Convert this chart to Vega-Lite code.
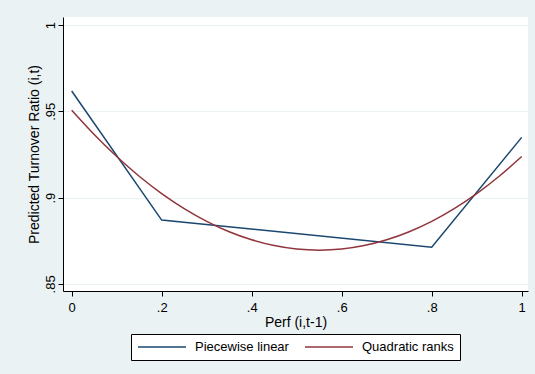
{
  "$schema": "https://vega.github.io/schema/vega-lite/v6.json",
  "width": 465,
  "height": 274,
  "autosize": {"type": "none"},
  "padding": {"left": 63, "top": 17, "right": 7, "bottom": 83},
  "background": "#EAF2F3",
  "config": {
    "view": {"fill": "white", "stroke": null},
    "font": "Liberation Sans",
    "axis": {"labelColor": "black", "titleColor": "black", "domainColor": "black", "tickColor": "black", "tickSize": 5, "domainWidth": 1, "tickWidth": 1, "labelFontSize": 13, "titleFontSize": 14, "titleFontWeight": "normal"}
  },
  "data": {
    "values": [
      {"perf": 0, "ratio": 0.9618, "series": "Piecewise linear"},
      {"perf": 0.2, "ratio": 0.8870, "series": "Piecewise linear"},
      {"perf": 0.8, "ratio": 0.8713, "series": "Piecewise linear"},
      {"perf": 1, "ratio": 0.9349, "series": "Piecewise linear"},
      {"perf": 0, "ratio": 0.9506, "series": "Quadratic ranks"},
      {"perf": 0.05, "ratio": 0.93653, "series": "Quadratic ranks"},
      {"perf": 0.1, "ratio": 0.9238, "series": "Quadratic ranks"},
      {"perf": 0.15, "ratio": 0.91241, "series": "Quadratic ranks"},
      {"perf": 0.2, "ratio": 0.90236, "series": "Quadratic ranks"},
      {"perf": 0.25, "ratio": 0.89365, "series": "Quadratic ranks"},
      {"perf": 0.3, "ratio": 0.88628, "series": "Quadratic ranks"},
      {"perf": 0.35, "ratio": 0.88025, "series": "Quadratic ranks"},
      {"perf": 0.4, "ratio": 0.87556, "series": "Quadratic ranks"},
      {"perf": 0.45, "ratio": 0.87221, "series": "Quadratic ranks"},
      {"perf": 0.5, "ratio": 0.8702, "series": "Quadratic ranks"},
      {"perf": 0.55, "ratio": 0.86953, "series": "Quadratic ranks"},
      {"perf": 0.6, "ratio": 0.8702, "series": "Quadratic ranks"},
      {"perf": 0.65, "ratio": 0.87221, "series": "Quadratic ranks"},
      {"perf": 0.7, "ratio": 0.87556, "series": "Quadratic ranks"},
      {"perf": 0.75, "ratio": 0.88025, "series": "Quadratic ranks"},
      {"perf": 0.8, "ratio": 0.88628, "series": "Quadratic ranks"},
      {"perf": 0.85, "ratio": 0.89365, "series": "Quadratic ranks"},
      {"perf": 0.9, "ratio": 0.90236, "series": "Quadratic ranks"},
      {"perf": 0.95, "ratio": 0.91241, "series": "Quadratic ranks"},
      {"perf": 1, "ratio": 0.9238, "series": "Quadratic ranks"}
    ]
  },
  "encoding": {
    "x": {
      "field": "perf", "type": "quantitative",
      "scale": {"domain": [-0.0193, 1.014], "nice": false, "zero": false},
      "axis": {
        "values": [0, 0.2, 0.4, 0.6, 0.8, 1],
        "labelExpr": "datum.value > 0 && datum.value < 1 ? substring(toString(datum.value), 1) : toString(datum.value)",
        "title": "Perf (i,t-1)",
        "grid": false,
        "labelPadding": 5,
        "titlePadding": 1,
        "labelFlush": false
      }
    },
    "y": {
      "field": "ratio", "type": "quantitative",
      "scale": {"domain": [0.8459, 1.00465], "nice": false, "zero": false},
      "axis": {
        "values": [0.85, 0.9, 0.95, 1],
        "labelExpr": "datum.value > 0 && datum.value < 1 ? substring(toString(datum.value), 1) : toString(datum.value)",
        "title": "Predicted Turnover Ratio (i,t)",
        "grid": true,
        "gridColor": "#EAF2F3",
        "gridWidth": 1,
        "labelAngle": -90,
        "labelAlign": "center",
        "labelBaseline": "alphabetic",
        "labelPadding": 4,
        "titlePadding": 3,
        "labelFlush": false
      }
    },
    "color": {
      "field": "series", "type": "nominal",
      "scale": {"domain": ["Piecewise linear", "Quadratic ranks"], "range": ["#1A476F", "#90353B"]},
      "legend": {
        "orient": "none",
        "legendX": 68,
        "legendY": 317,
        "direction": "horizontal",
        "title": null,
        "fillColor": "white",
        "strokeColor": "black",
        "padding": 6,
        "symbolType": "M-1,0H7",
        "symbolSize": 144,
        "symbolStrokeWidth": 1.5,
        "labelFontSize": 13,
        "labelColor": "black",
        "labelOffset": 44,
        "columnPadding": 13
      }
    }
  },
  "layer": [
    {
      "transform": [{"filter": "datum.series == 'Piecewise linear'"}],
      "mark": {"type": "line", "strokeWidth": 1.5, "interpolate": "linear"}
    },
    {
      "transform": [{"filter": "datum.series == 'Quadratic ranks'"}],
      "mark": {"type": "line", "strokeWidth": 1.5, "interpolate": "monotone"}
    }
  ]
}
